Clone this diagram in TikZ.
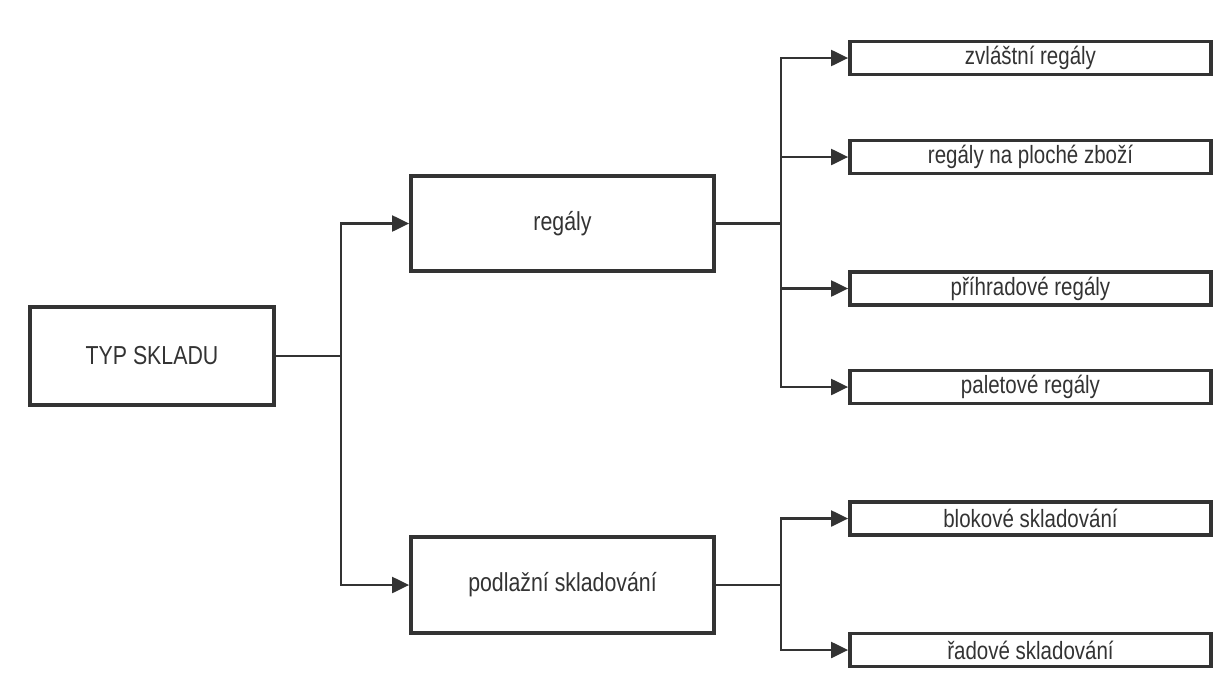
\documentclass[tikz,border=0pt]{standalone}
\usepackage{fontspec}
\setmainfont{Liberation Sans}[FakeStretch=0.82]
\usetikzlibrary{arrows.meta}
\definecolor{ink}{HTML}{333333}
\tikzset{
  box/.style={draw=ink, line width=3.8pt, rectangle, inner sep=0pt, text=ink, font=\fontsize{26}{30}\selectfont},
  bigbox/.style={box, minimum width=303pt, minimum height=95pt},
  smallbox/.style={box, minimum width=361pt, minimum height=33pt, font=\fontsize{25}{28}\selectfont},
  conn/.style={draw=ink, line width=2.2pt},
  arr/.style={conn, -{Triangle[length=17pt,width=16pt]}},
}
\begin{document}
\begin{tikzpicture}[x=1pt,y=-1pt]
\path[fill=white] (0,0) rectangle (1224,686);
\useasboundingbox (0,0) rectangle (1224,686);
\node[box, minimum width=244pt, minimum height=98pt] (typ) at (152,356) {TYP SKLADU};
\node[bigbox] (reg) at (562.5,223.5) {regály};
\node[bigbox, minimum height=96pt] (pod) at (562.5,585) {podlažní skladování};
\node[smallbox] (r1) at (1030.5,58) {zvláštní regály};
\node[smallbox] (r2) at (1030.5,157) {regály na ploché zboží};
\node[smallbox] (r3) at (1030.5,288.5) {příhradové regály};
\node[smallbox] (r4) at (1030.5,387) {paletové regály};
\node[smallbox] (p1) at (1030.5,518.5) {blokové skladování};
\node[smallbox] (p2) at (1030.5,650) {řadové skladování};
\coordinate (j1) at (341,356);
\coordinate (j2) at (781,223.5);
\coordinate (j3) at (781,585);
\draw[conn] (typ.east) -- (j1);
\draw[arr] (j1) |- (reg.west);
\draw[arr] (j1) |- (pod.west);
\draw[conn] (reg.east) -- (j2);
\draw[arr] (j2) |- (r1.west);
\draw[arr] (j2) |- (r2.west);
\draw[arr] (j2) |- (r3.west);
\draw[arr] (j2) |- (r4.west);
\draw[conn] (pod.east) -- (j3);
\draw[arr] (j3) |- (p1.west);
\draw[arr] (j3) |- (p2.west);
\end{tikzpicture}
\end{document}
